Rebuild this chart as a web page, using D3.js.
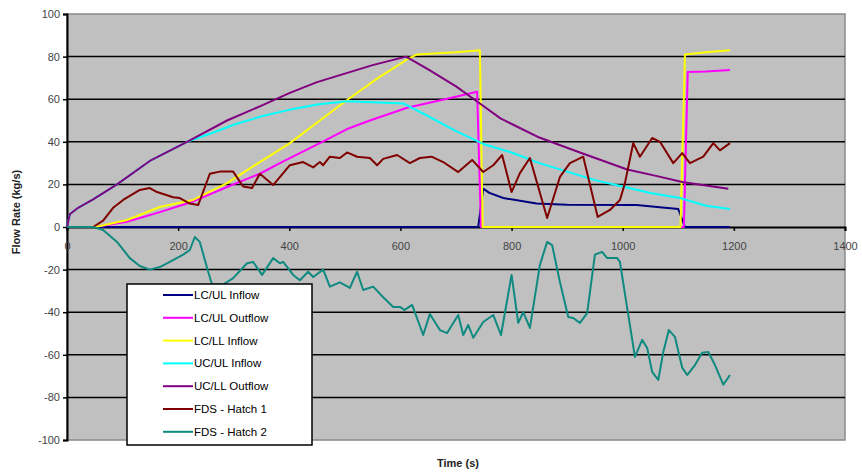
<!DOCTYPE html>
<html>
<head>
<meta charset="utf-8">
<script src="https://cdn.jsdelivr.net/npm/d3@7"></script>
<style>
  body { margin: 0; background: #fff; }
  text { font-family: Arial, "Liberation Sans", sans-serif; }
</style>
</head>
<body>
<div id="chart"></div>
<script>
// series data, [time (s), flow rate (kg/s)]
const lculInflow = [[0,0],[740,0],[749,18],[760,16],[785,13.6],[845,11],[900,10.5],[1025,10.3],[1062,9.4],[1100,8.4],[1112,0],[1193,0]];
const lculOutflow = [[0,0],[50,0],[108,2.5],[167,7],[227,12],[288,18.8],[347,25],[383,30],[455,39.4],[504,46],[545,50],[612,56],[680,60],[738,63.5],[745,0],[1110,0],[1117,72.8],[1150,73],[1193,73.7]];
const lcllInflow = [[0,0],[40,0],[60,0.5],[108,3.3],[167,9.4],[227,12.7],[288,20.6],[347,30.5],[401,39.4],[455,50],[504,59.6],[560,70],[614,79],[630,81],[700,82],[743,83],[748,0],[1104,0],[1112,81],[1150,82],[1193,83]];
const uculInflow = [[0,0],[5,6],[20,9],[47,13],[90,20],[149,31],[216,40],[260,44],[300,48],[350,52],[400,55],[450,57.5],[504,59],[560,58.5],[605,58],[650,52],[700,45],[749,39],[800,35],[850,30],[900,26],[950,22],[1000,19],[1050,16],[1103,13.6],[1150,10],[1193,8.4]];
const ucllOutflow = [[0,0],[5,6],[20,9],[47,13],[90,20],[149,31],[216,40],[288,50],[350,57],[401,63],[450,68],[500,72],[550,76],[610,80],[650,74],[700,66],[743,58],[780,51],[803,48],[850,42],[923,35],[1008,27],[1060,24],[1109,21],[1150,19.5],[1190,18]];
const fdsHatch1 = [[0,0],[40,0],[47,0],[65,3],[83,9],[101,12.7],[131,17.4],[149,18.3],[162,16.4],[191,14],[203,13.6],[221,11],[236,10.3],[257,25],[275,26],[299,26],[317,19],[333,18.3],[347,25],[371,19.7],[401,29],[425,30.5],[443,28],[455,30.5],[461,29],[473,33],[491,32.4],[504,35],[522,33],[545,32.4],[558,29],[569,32],[594,33.8],[617,30],[635,32.4],[656,33],[677,30.5],[704,25.8],[729,31.5],[749,25.8],[767,29],[783,33.8],[800,16.4],[815,25.3],[833,32.4],[864,4.2],[887,23.5],[905,30],[929,33],[955,4.7],[977,8],[995,12.7],[1004,20.6],[1019,39.4],[1031,33],[1053,41.8],[1067,40],[1091,30],[1107,34.7],[1121,30],[1145,33],[1163,39.4],[1175,36],[1193,39.4]];
const fdsHatch2 = [[0,0],[40,0],[47,0],[65,-1.4],[90,-7],[113,-14.6],[131,-18.3],[149,-20],[167,-18.8],[185,-16.4],[209,-13],[221,-10.8],[230,-4.7],[239,-7],[254,-21],[261,-27],[281,-27],[299,-24],[324,-17],[335,-16.4],[351,-22.5],[371,-14.6],[383,-17],[389,-16.4],[407,-22.5],[419,-25],[434,-21],[443,-23.5],[461,-20],[473,-28],[491,-26],[509,-28.6],[522,-21],[533,-29.6],[551,-28],[569,-33],[587,-37.6],[600,-37.6],[607,-39],[621,-36.6],[641,-50.7],[653,-40.8],[671,-48.4],[684,-49.8],[704,-41.3],[713,-50.7],[722,-46],[731,-52],[749,-44.6],[767,-41.3],[781,-50.7],[800,-22.5],[812,-45],[821,-40],[833,-47.4],[851,-17.8],[864,-7],[873,-8.5],[887,-25.8],[902,-42.3],[911,-42.7],[923,-45],[936,-40.4],[950,-13],[963,-11.7],[972,-14.6],[990,-14.6],[995,-16.4],[1008,-38],[1022,-61],[1035,-53],[1044,-56.8],[1053,-68],[1064,-71.8],[1073,-58.7],[1083,-48.4],[1094,-51.6],[1107,-66],[1116,-69.5],[1130,-64.8],[1143,-59],[1154,-58.7],[1166,-64.8],[1181,-74],[1193,-69.5]];

const seriesNames = ["LC/UL Inflow", "LC/UL Outflow", "LC/LL Inflow", "UC/UL Inflow", "UC/LL Outflow", "FDS - Hatch 1", "FDS - Hatch 2"];
const seriesData = [lculInflow, lculOutflow, lcllInflow, uculInflow, ucllOutflow, fdsHatch1, fdsHatch2];
const seriesColors = ["#000080", "#ff00ff", "#ffff00", "#00ffff", "#800080", "#800000", "#0e8a80"];
const xTicks = [0, 200, 400, 600, 800, 1000, 1200, 1400];
const yTicks = [-100, -80, -60, -40, -20, 0, 20, 40, 60, 80, 100];

const W = 862, H = 472;
const svg = d3.select("#chart").append("svg").attr("width", W).attr("height", H);

const x = d3.scaleLinear().domain([0, 1400]).range([67, 845]);
const y = d3.scaleLinear().domain([-100, 100]).range([440, 14]);

// plain hyphen minus like the original
const fmt = d => String(d);

// plot area
svg.append("rect")
    .attr("x", x(0)).attr("y", y(100))
    .attr("width", x(1400) - x(0)).attr("height", y(-100) - y(100))
    .attr("fill", "#c0c0c0")
    .attr("stroke", "#8a8a8a")
    .attr("stroke-width", 1.5);

// gridlines
svg.append("g")
    .selectAll("line")
    .data(yTicks.filter(d => d !== 100 && d !== -100 && d !== 0))
    .enter()
    .append("line")
    .attr("x1", x(0)).attr("x2", x(1400))
    .attr("y1", d => y(d)).attr("y2", d => y(d))
    .attr("stroke", "#000")
    .attr("stroke-width", 1.5);

// y axis
const yAxis = svg.append("g")
    .attr("transform", `translate(${x(0)},0)`)
    .call(d3.axisLeft(y).tickValues(yTicks).tickSize(4).tickPadding(3).tickFormat(fmt));
yAxis.select(".domain").attr("stroke", "#000").attr("stroke-width", 2);
yAxis.selectAll(".tick line").attr("stroke", "#000").attr("stroke-width", 1.5);
yAxis.selectAll("text").attr("font-size", 11).attr("fill", "#444").attr("font-family", "Arial, 'Liberation Sans', sans-serif");

// x axis at zero
const xAxis = svg.append("g")
    .attr("transform", `translate(0,${y(0)})`)
    .call(d3.axisBottom(x).tickValues(xTicks).tickSize(4).tickPadding(11).tickFormat(fmt));
xAxis.select(".domain").attr("stroke", "#000").attr("stroke-width", 2);
xAxis.selectAll(".tick line").attr("stroke", "#000").attr("stroke-width", 1.5);
xAxis.selectAll("text").attr("font-size", 11).attr("fill", "#444").attr("font-family", "Arial, 'Liberation Sans', sans-serif");

// series
const line = d3.line().x(d => x(d[0])).y(d => y(d[1]));
svg.append("g")
    .selectAll("path")
    .data(seriesData)
    .enter()
    .append("path")
    .attr("d", d => line(d))
    .attr("fill", "none")
    .attr("stroke", (_d, i) => seriesColors[i])
    .attr("stroke-width", 2)
    .attr("stroke-linejoin", "round");

// axis titles
svg.append("text")
    .attr("transform", "translate(20,212) rotate(-90)")
    .attr("text-anchor", "middle")
    .attr("font-size", 11)
    .attr("font-weight", "bold")
    .attr("fill", "#222")
    .text("Flow Rate (kg/s)");

svg.append("text")
    .attr("x", 458).attr("y", 467)
    .attr("text-anchor", "middle")
    .attr("font-size", 11)
    .attr("font-weight", "bold")
    .attr("fill", "#222")
    .text("Time (s)");

// legend
const legend = svg.append("g");
legend.append("rect")
    .attr("x", 127).attr("y", 284)
    .attr("width", 185).attr("height", 161)
    .attr("fill", "#fff")
    .attr("stroke", "#000")
    .attr("stroke-width", 1.5);

const rows = legend.selectAll("g.row")
    .data(seriesNames)
    .enter()
    .append("g")
    .attr("class", "row")
    .attr("transform", (_d, i) => `translate(0,${295 + i * 22.8})`);
rows.append("line")
    .attr("x1", 163).attr("x2", 193)
    .attr("stroke", (_d, i) => seriesColors[i])
    .attr("stroke-width", 2);
rows.append("text")
    .attr("x", 194).attr("y", 0)
    .attr("dy", "0.35em")
    .attr("font-size", 11.5)
    .attr("fill", "#000")
    .text(d => d);
</script>
</body>
</html>
